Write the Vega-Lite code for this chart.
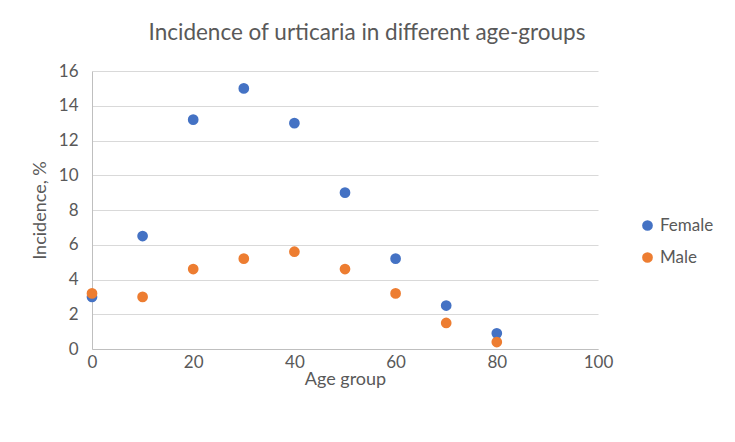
{
  "$schema": "https://vega.github.io/schema/vega-lite/v6.json",
  "autosize": "none",
  "width": 506,
  "height": 278,
  "padding": {"left": 92, "top": 71, "right": 137, "bottom": 93},
  "background": "white",
  "config": {
    "font": "Lato",
    "view": {"stroke": null}
  },
  "title": {
    "text": "Incidence of urticaria in different age-groups",
    "fontSize": 22.5,
    "fontWeight": "normal",
    "color": "#595959",
    "font": "Lato",
    "offset": 18,
    "dx": 22
  },
  "data": {
    "values": [
      {"age": 0, "incidence": 3.0, "sex": "Female"},
      {"age": 10, "incidence": 6.5, "sex": "Female"},
      {"age": 20, "incidence": 13.2, "sex": "Female"},
      {"age": 30, "incidence": 15.0, "sex": "Female"},
      {"age": 40, "incidence": 13.0, "sex": "Female"},
      {"age": 50, "incidence": 9.0, "sex": "Female"},
      {"age": 60, "incidence": 5.2, "sex": "Female"},
      {"age": 70, "incidence": 2.5, "sex": "Female"},
      {"age": 80, "incidence": 0.9, "sex": "Female"},
      {"age": 0, "incidence": 3.2, "sex": "Male"},
      {"age": 10, "incidence": 3.0, "sex": "Male"},
      {"age": 20, "incidence": 4.6, "sex": "Male"},
      {"age": 30, "incidence": 5.2, "sex": "Male"},
      {"age": 40, "incidence": 5.6, "sex": "Male"},
      {"age": 50, "incidence": 4.6, "sex": "Male"},
      {"age": 60, "incidence": 3.2, "sex": "Male"},
      {"age": 70, "incidence": 1.5, "sex": "Male"},
      {"age": 80, "incidence": 0.4, "sex": "Male"}
    ]
  },
  "mark": {"type": "circle", "size": 115, "opacity": 1},
  "encoding": {
    "x": {
      "field": "age",
      "type": "quantitative",
      "scale": {"domain": [0, 100], "nice": false},
      "axis": {
        "values": [0, 20, 40, 60, 80, 100],
        "title": "Age group",
        "titleFontSize": 18,
        "titleFontWeight": "normal",
        "titleColor": "#595959",
        "titlePadding": 0,
        "labelFontSize": 17,
        "labelColor": "#595959",
        "labelPadding": 5,
        "labelFlush": false,
        "ticks": false,
        "grid": false,
        "domainColor": "#BFBFBF",
        "domainWidth": 1
      }
    },
    "y": {
      "field": "incidence",
      "type": "quantitative",
      "scale": {"domain": [0, 16], "nice": false},
      "axis": {
        "values": [0, 2, 4, 6, 8, 10, 12, 14, 16],
        "title": "Incidence, %",
        "titleFontSize": 18,
        "titleFontWeight": "normal",
        "titleColor": "#595959",
        "titlePadding": 9,
        "labelFontSize": 17,
        "labelColor": "#595959",
        "labelPadding": 14,
        "ticks": false,
        "grid": true,
        "gridColor": "#D9D9D9",
        "domainColor": "#BFBFBF",
        "domainWidth": 1
      }
    },
    "color": {
      "field": "sex",
      "type": "nominal",
      "scale": {"domain": ["Female", "Male"], "range": ["#4472C4", "#ED7D31"]},
      "legend": {
        "title": null,
        "orient": "none",
        "legendX": 547,
        "legendY": 146,
        "symbolType": "circle",
        "symbolSize": 115,
        "labelFontSize": 17,
        "labelColor": "#595959",
        "rowPadding": 14,
        "labelOffset": 4
      }
    },
    "order": {"field": "sex", "type": "nominal", "sort": "ascending"}
  }
}
